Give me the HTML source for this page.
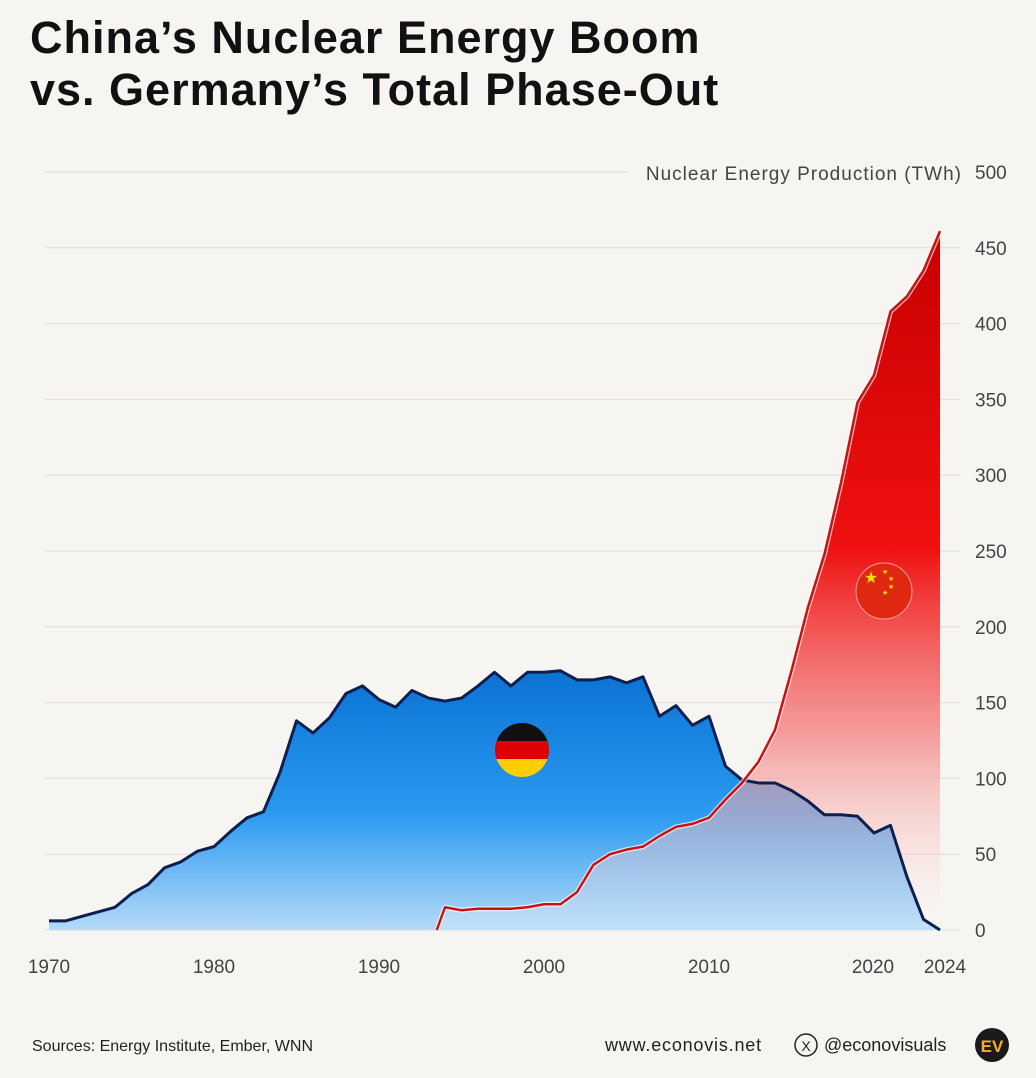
<!DOCTYPE html>
<html><head><meta charset="utf-8"><style>
html,body{margin:0;padding:0;background:#f6f5f1;}
body{width:1036px;height:1078px;position:relative;overflow:hidden;font-family:"Liberation Sans","DejaVu Sans",sans-serif;}
h1{position:absolute;left:30px;top:12px;margin:0;font-size:45px;line-height:52px;font-weight:bold;color:#111;letter-spacing:1px;}
</style></head><body>
<h1>China’s Nuclear Energy Boom<br>vs. Germany’s Total Phase-Out</h1>
<svg id="c" width="1036" height="1078" style="position:absolute;left:0;top:0">
<defs>
<linearGradient id="gb" x1="0" y1="670" x2="0" y2="930" gradientUnits="userSpaceOnUse">
<stop offset="0" stop-color="#0a72d4"/><stop offset="0.55" stop-color="#2a9af0"/><stop offset="1" stop-color="#b5daf8"/></linearGradient>
<linearGradient id="gr" x1="0" y1="235" x2="0" y2="930" gradientUnits="userSpaceOnUse">
<stop offset="0" stop-color="#c80000"/><stop offset="0.45" stop-color="#f01010"/><stop offset="0.72" stop-color="#f38080" stop-opacity="0.75"/><stop offset="1" stop-color="#ffffff" stop-opacity="0.2"/></linearGradient>
</defs>
<g id="grid"></g>
<path id="gf" fill="url(#gb)"/>
<path id="cf" fill="url(#gr)"/>
<path id="gl" fill="none" stroke="#0d1f4f" stroke-width="3" stroke-linejoin="round"/>
<path id="clw" fill="none" stroke="#fff" stroke-width="5" stroke-linejoin="round" opacity="0.7"/>
<path id="cl" fill="none" stroke="#cc1010" stroke-width="2.5" stroke-linejoin="round"/>
<text x="962" y="180" text-anchor="end" font-size="19" letter-spacing="1" fill="#444">Nuclear Energy Production (TWh)</text>
<g font-size="19" fill="#444" id="yl"></g>
<g font-size="19" fill="#444" text-anchor="middle">
<text x="49" y="973">1970</text><text x="214" y="973">1980</text><text x="379" y="973">1990</text>
<text x="544" y="973">2000</text><text x="709" y="973">2010</text><text x="873" y="973">2020</text><text x="945" y="973">2024</text></g>
<clipPath id="dc"><circle cx="522" cy="750" r="27"/></clipPath>
<g clip-path="url(#dc)"><rect x="495" y="723" width="54" height="18" fill="#111"/><rect x="495" y="741" width="54" height="18" fill="#dd0000"/><rect x="495" y="759" width="54" height="18" fill="#ffce00"/></g>
<circle cx="884" cy="591" r="28" fill="#de2910" stroke="#f0a0a0" stroke-width="1"/>
<text x="871" y="583" font-size="16" fill="#ffde00" text-anchor="middle">★</text>
<g fill="#ffde00" font-size="7"><text x="882" y="574">★</text><text x="888" y="581">★</text><text x="888" y="589">★</text><text x="882" y="595">★</text></g>
<g font-size="16" fill="#222">
<text x="32" y="1051">Sources: Energy Institute, Ember, WNN</text>
<text x="605" y="1051" font-size="18" letter-spacing="0.8">www.econovis.net</text>
<text x="824" y="1051" font-size="18">@econovisuals</text></g>
<circle cx="806" cy="1045" r="11" fill="none" stroke="#222" stroke-width="1.5"/>
<text x="806" y="1051" font-size="14" text-anchor="middle" fill="#222">X</text>
<circle cx="992" cy="1045" r="17" fill="#1a1a1a"/>
<text x="992" y="1052" font-size="17" font-weight="bold" text-anchor="middle" fill="#f0b020">EV</text>
</svg>
<script>
const X=y=>49+(y-1970)*16.5, Y=v=>930-v*1.516;
let g='';
for(let v=0;v<=500;v+=50){const y=Y(v);g+=`<line x1="45" x2="${v==500?628:960}" y1="${y}" y2="${y}" stroke="#dcdcdc" stroke-width="1"/>`;}
document.getElementById('grid').innerHTML=g;
let yl='';for(let v=0;v<=500;v+=50)yl+=`<text x="975" y="${Y(v)+7}">${v}</text>`;
document.getElementById('yl').innerHTML=yl;
const de=[6,6,9,12,15,24,30,41,45,52,55,65,74,78,104,138,130,140,156,161,152,147,158,153,151,153,161,170,161,170,170,171,165,165,167,163,167,141,148,135,141,108,99,97,97,92,85,76,76,75,64,69,35,7,0];
const cn={1994:15,1995:13,1996:14,1997:14,1998:14,1999:15,2000:17,2001:17,2002:25,2003:43,2004:50,2005:53,2006:55,2007:62,2008:68,2009:70,2010:74,2011:86,2012:97,2013:111,2014:132,2015:171,2016:213,2017:248,2018:295,2019:348,2020:366,2021:408,2022:418,2023:435,2024:461};
let gp=de.map((v,i)=>`${X(1970+i)},${Y(v)}`).join(' L');
document.getElementById('gl').setAttribute('d','M'+gp);
document.getElementById('gf').setAttribute('d',`M${X(1970)},930 L${gp} L${X(2024)},930 Z`);
let cp=`${X(1993.5)},930`;for(let y=1994;y<=2024;y++)cp+=` L${X(y)},${Y(cn[y])}`;
document.getElementById('cl').setAttribute('d','M'+cp);
document.getElementById('clw').setAttribute('d','M'+cp);
document.getElementById('cf').setAttribute('d',`M${cp} L${X(2024)},930 Z`);
</script>
</body></html>
